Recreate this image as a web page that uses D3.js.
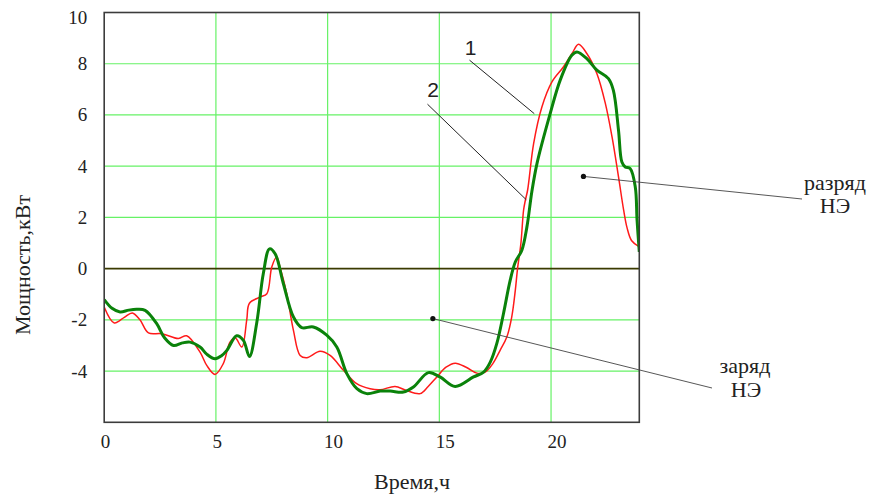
<!DOCTYPE html>
<html>
<head>
<meta charset="utf-8">
<script src="https://cdn.jsdelivr.net/npm/d3@7"></script>
<style>
  html, body { margin: 0; padding: 0; background: #fff; }
  svg { display: block; }
  .serif { font-family: "Liberation Serif", "Times New Roman", "DejaVu Serif", serif; }
  .sans { font-family: "Liberation Sans", Arial, sans-serif; }
</style>
</head>
<body>
<svg id="chart" width="871" height="495"></svg>
<script>
// ---- data ----
const hours1 = [0,0.45,0.9,1.26,1.6,1.98,2.57,3.32,3.69,4.29,4.59,4.96,5.33,5.63,5.86,6.16,6.38,6.5,6.98,7.28,7.5,7.72,7.87,8.17,8.47,8.77,9.07,9.66,10.11,10.71,11.3,11.9,12.35,13.02,13.5,14.14,14.5,14.89,15.3,15.71,16.2,16.68,17.05,17.4,17.72,18.02,18.24,18.4,18.5,18.65,18.77,18.85,18.95,19.22,19.59,20.04,20.56,20.94,21.23,21.6,22.05,22.43,22.73,23.02,23.25,23.4,23.6,23.92];
const power1 = [-1.5,-2.12,-1.9,-1.73,-2.0,-2.51,-2.54,-2.73,-2.62,-3.26,-3.78,-4.13,-3.71,-2.87,-2.7,-3.06,-2.0,-1.35,-1.11,-0.98,0.06,0.45,0.06,-0.98,-2.41,-3.39,-3.48,-3.23,-3.39,-3.97,-4.49,-4.69,-4.73,-4.6,-4.75,-4.88,-4.6,-4.23,-3.85,-3.69,-3.85,-4.08,-4.04,-3.7,-3.19,-2.67,-1.89,-0.85,0,0.98,2.28,2.67,3.06,4.88,6.31,7.29,7.88,8.4,8.76,8.4,7.62,6.45,5.14,3.58,2.28,1.6,1.1,0.87];
const hours2 = [0,0.35,0.71,1.1,1.46,1.83,2.35,2.7,3.1,3.5,3.84,4.29,4.6,4.96,5.25,5.49,5.93,6.23,6.5,6.83,7.12,7.4,7.65,8.02,8.47,8.84,9.36,9.96,10.41,10.86,11.31,11.75,12.35,12.8,13.39,13.84,14.51,15.03,15.71,16.53,16.98,17.28,17.58,17.87,18.17,18.4,18.69,18.92,19.14,19.37,19.96,20.41,20.93,21.16,21.6,22.05,22.57,22.79,23.02,23.17,23.32,23.54,23.77,23.85,23.95];
const power2 = [-1.21,-1.55,-1.69,-1.62,-1.59,-1.63,-2.15,-2.7,-3.0,-2.9,-2.87,-3.06,-3.35,-3.52,-3.4,-3.19,-2.62,-2.8,-3.43,-2.1,-0.2,0.77,0.58,-0.59,-1.89,-2.3,-2.28,-2.6,-3.06,-4.1,-4.69,-4.88,-4.78,-4.78,-4.82,-4.62,-4.06,-4.23,-4.6,-4.23,-4.04,-3.65,-2.9,-1.76,-0.46,0.26,0.71,1.63,3.0,4.1,6.05,7.36,8.33,8.46,8.2,7.75,7.42,6.96,5.4,4.16,3.97,3.91,3.19,1.89,0.65];
const xTicks = [0, 5, 10, 15, 20];
const yTicks = [10, 8, 6, 4, 2, 0, -2, -4];
const xGrid = [5, 10, 15, 20];
const yGrid = [-4, -2, 2, 4, 6, 8];
const xTitle = "Время,ч";
const yTitle = "Мощность,кВт";
const seriesLabels = ["1", "2"];
const noteDischarge = ["разряд", "НЭ"];
const noteCharge = ["заряд", "НЭ"];

// ---- layout ----
const L = 104.2, R = 639.3, T = 12.5, B = 422.3;
const x = d3.scaleLinear().domain([0, 23.95]).range([L, R]);
const y = d3.scaleLinear().domain([-6, 10]).range([B, T]);
const fmt = d => String(d); // plain hyphen minus as in the reference

const svg = d3.select("#chart");
svg.append("defs").append("clipPath").attr("id", "clip")
  .append("rect").attr("x", L).attr("y", T).attr("width", R - L).attr("height", B - T);

// grid
const g = svg.append("g");
g.selectAll("line.vx").data(xGrid).enter().append("line")
  .attr("x1", d => x(d)).attr("x2", d => x(d)).attr("y1", T).attr("y2", B)
  .attr("stroke", "#66f266").attr("stroke-width", 1.2);
g.selectAll("line.hy").data(yGrid).enter().append("line")
  .attr("x1", L).attr("x2", R).attr("y1", d => y(d)).attr("y2", d => y(d))
  .attr("stroke", "#66f266").attr("stroke-width", 1.2);

// zero line
g.append("line").attr("x1", L).attr("x2", R).attr("y1", y(0)).attr("y2", y(0))
  .attr("stroke", "#3a3a00").attr("stroke-width", 1.6);

// series
const line = d3.line().x(d => x(d[0])).y(d => y(d[1])).curve(d3.curveCatmullRom.alpha(0.5));
const s1 = hours1.map((h, i) => [h, power1[i]]);
const s2 = hours2.map((h, i) => [h, power2[i]]);
const plot = svg.append("g").attr("clip-path", "url(#clip)");
plot.append("path").datum(s1).attr("d", line).attr("fill", "none")
  .attr("stroke", "#ff1a1a").attr("stroke-width", 1.5);
plot.append("path").datum(s2).attr("d", line).attr("fill", "none")
  .attr("stroke", "#0a820a").attr("stroke-width", 3);

// frame
svg.append("rect").attr("x", L).attr("y", T).attr("width", R - L).attr("height", B - T)
  .attr("fill", "none").attr("stroke", "#3c3c3c").attr("stroke-width", 1.6);

// axes labels
const xAxis = svg.append("g").attr("transform", `translate(0,${B})`)
  .call(d3.axisBottom(x).tickValues(xTicks).tickSize(0).tickPadding(0).tickFormat(fmt));
xAxis.attr("font-family", null).attr("font-size", null);
xAxis.select(".domain").remove();
xAxis.selectAll("text").attr("class", "serif").style("font-size", "19px").attr("fill", "#222")
  .attr("text-anchor", "start").attr("dx", -4).attr("dy", 0).attr("y", 26);

const yAxis = svg.append("g").attr("transform", `translate(${L},0)`)
  .call(d3.axisLeft(y).tickValues(yTicks).tickSize(0).tickPadding(17).tickFormat(fmt));
yAxis.attr("font-family", null).attr("font-size", null);
yAxis.select(".domain").remove();
yAxis.selectAll(".tick").attr("transform", d => `translate(0,${Math.max(y(d), 18)})`);
yAxis.selectAll("text").attr("class", "serif").style("font-size", "19px").attr("fill", "#222")
  .attr("dy", "0.34em");

// titles
svg.append("text").attr("class", "serif").attr("x", 412).attr("y", 489).attr("text-anchor", "middle")
  .style("font-size", "22px").attr("fill", "#222").text(xTitle);
svg.append("text").attr("class", "serif").attr("transform", "translate(30,265) rotate(-90)")
  .attr("text-anchor", "middle").style("font-size", "22px").attr("fill", "#222").text(yTitle);

// series callouts
const ann = svg.append("g");
ann.append("line").attr("x1", x(16.35)).attr("y1", y(8.14)).attr("x2", x(19.25)).attr("y2", y(6.05))
  .attr("stroke", "#222").attr("stroke-width", 1);
ann.append("line").attr("x1", x(14.47)).attr("y1", y(6.42)).attr("x2", x(18.89)).attr("y2", y(2.69))
  .attr("stroke", "#222").attr("stroke-width", 1);
ann.append("text").attr("class", "sans").attr("x", x(16.4)).attr("y", y(8.36)).attr("text-anchor", "middle")
  .style("font-size", "21px").attr("fill", "#222").text(seriesLabels[0]);
ann.append("text").attr("class", "sans").attr("x", x(14.72)).attr("y", y(6.70)).attr("text-anchor", "middle")
  .style("font-size", "21px").attr("fill", "#222").text(seriesLabels[1]);

// discharge / charge notes
ann.append("line").attr("x1", x(21.45)).attr("y1", y(3.6)).attr("x2", 802).attr("y2", 199)
  .attr("stroke", "#444").attr("stroke-width", 0.9);
ann.append("circle").attr("cx", x(21.45)).attr("cy", y(3.6)).attr("r", 2.6).attr("fill", "#111");
ann.append("line").attr("x1", x(14.71)).attr("y1", y(-1.95)).attr("x2", 712).attr("y2", 388)
  .attr("stroke", "#444").attr("stroke-width", 0.9);
ann.append("circle").attr("cx", x(14.71)).attr("cy", y(-1.95)).attr("r", 2.6).attr("fill", "#111");

const n1 = ann.append("text").attr("class", "serif").attr("text-anchor", "middle")
  .style("font-size", "22px").attr("fill", "#222");
n1.append("tspan").attr("x", 835).attr("y", 190).text(noteDischarge[0]);
n1.append("tspan").attr("x", 835).attr("y", 213).text(noteDischarge[1]);
const n2 = ann.append("text").attr("class", "serif").attr("text-anchor", "middle")
  .style("font-size", "22px").attr("fill", "#222");
n2.append("tspan").attr("x", 745).attr("y", 373).text(noteCharge[0]);
n2.append("tspan").attr("x", 746).attr("y", 397).text(noteCharge[1]);
</script>
</body>
</html>
